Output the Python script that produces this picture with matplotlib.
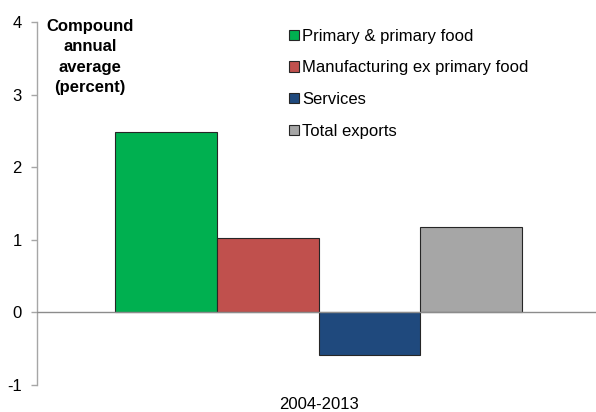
import matplotlib
matplotlib.use("Agg")
import matplotlib.pyplot as plt
import numpy as np

plt.rcParams['font.family'] = ['Liberation Sans', 'DejaVu Sans']

period = ['2004-2013']
series = ['Primary & primary food', 'Manufacturing ex primary food',
          'Services', 'Total exports']
values = [2.48, 1.02, -0.58, 1.18]
colors = ['#00b050', '#c0504d', '#1f497d', '#a6a6a6']
yticks = [-1, 0, 1, 2, 3, 4]

FS = 12

fig = plt.figure(figsize=(5.96, 4.12), dpi=100)
# axes box in pixel terms: left 37, right 600, top y=22, bottom y=385
ax = fig.add_axes([37/596, 1 - 385/412, 563/596, 363/412])

w = 0.362
handles = []
for i, (name, v, c) in enumerate(zip(series, values, colors)):
    b = ax.bar((i - 1.5) * w, v, width=w, color=c, edgecolor='#262626',
               linewidth=0.8, label=name, zorder=2)
    handles.append(b)

ax.axhline(0, color='#8c8c8c', linewidth=1.0, zorder=3)

ax.set_xlim(-1, 1)
ax.set_ylim(-1, 4)
ax.set_yticks(yticks)
ax.set_yticklabels([str(t) for t in yticks], fontsize=FS)
ax.set_xticks([])

for s in ['top', 'right', 'bottom']:
    ax.spines[s].set_visible(False)
ax.spines['left'].set_color('#a6a6a6')
ax.spines['left'].set_linewidth(1.0)
ax.tick_params(axis='y', direction='out', length=4, width=1.0,
               color='#a6a6a6', pad=7)

ax.text(0, -1.27, period[0], ha='center', va='center', fontsize=FS,
        transform=ax.transData)

fig.text(90/596, 1 - 19/412, 'Compound\nannual\naverage\n(percent)',
         ha='center', va='top', fontsize=FS, fontweight='bold',
         linespacing=1.45)

leg = ax.legend(handles=handles, loc='upper left',
                bbox_to_anchor=(282/596, 1 - 22/412),
                bbox_transform=fig.transFigure, frameon=False,
                fontsize=FS, handlelength=0.6, handleheight=0.6,
                handletextpad=0.2, labelspacing=1.0, borderaxespad=0)

fig.savefig('out.png', dpi=100)
